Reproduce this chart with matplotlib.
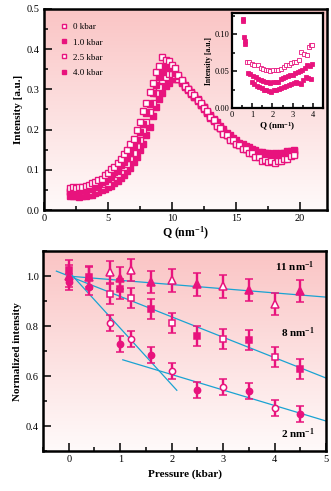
import matplotlib
matplotlib.use("Agg")
import matplotlib.pyplot as plt
import numpy as np
from matplotlib.ticker import MultipleLocator, FormatStrFormatter

PINK = "#E8137D"
CYAN = "#1AA3D2"
SERIF = "Liberation Serif"

plt.rcParams["font.family"] = SERIF
plt.rcParams["mathtext.default"] = "regular"

# ---- scattering curves at several pressures ----
q = [2.0, 2.25, 2.5, 2.75, 3.0, 3.25, 3.5, 3.75, 4.0, 4.25, 4.5, 4.75,
     5.0, 5.25, 5.5, 5.75, 6.0, 6.25, 6.5, 6.75, 7.0, 7.25, 7.5, 7.75,
     8.0, 8.25, 8.5, 8.75, 9.0, 9.25, 9.5, 9.75, 10.0, 10.25, 10.5, 10.75,
     11.0, 11.25, 11.5, 11.75, 12.0, 12.25, 12.5, 12.75, 13.0, 13.25, 13.5, 13.75,
     14.0, 14.25, 14.5, 14.75, 15.0, 15.25, 15.5, 15.75, 16.0, 16.25, 16.5, 16.75,
     17.0, 17.25, 17.5, 17.75, 18.0, 18.25, 18.5, 18.75, 19.0, 19.25, 19.5]

i_0kbar = [.054, .057, .055, .058, .056, .060, .061, .067, .069, .075, .078, .087,
           .092, .101, .107, .118, .126, .139, .149, .165, .176, .199, .218, .247,
           .266, .294, .316, .344, .358, .380, .373, .370, .360, .352, .336, .324,
           .308, .302, .290, .285, .273, .267, .253, .246, .231, .224, .210, .204,
           .190, .186, .175, .173, .163, .161, .152, .151, .143, .141, .132, .131,
           .123, .125, .119, .122, .117, .123, .121, .128, .126, .134, .136]
i_1kbar = [.047, .045, .048, .047, .050, .050, .054, .055, .060, .062, .069, .072,
           .080, .084, .094, .100, .111, .119, .132, .142, .158, .173, .194, .214,
           .241, .264, .291, .311, .331, .344, .356, .357, .353, .342, .334, .321,
           .312, .301, .294, .283, .275, .263, .255, .243, .235, .223, .215, .204,
           .197, .187, .182, .174, .170, .163, .160, .154, .152, .146, .145, .140,
           .140, .136, .137, .134, .136, .135, .138, .138, .142, .142, .147]
i_25kbar = [.044, .045, .043, .046, .044, .048, .048, .052, .052, .057, .059, .065,
            .068, .076, .081, .090, .096, .107, .115, .129, .141, .159, .175, .198,
            .219, .245, .267, .291, .307, .323, .331, .339, .339, .337, .327, .319,
            .307, .300, .289, .282, .270, .262, .250, .242, .230, .222, .210, .203,
            .192, .186, .177, .173, .165, .161, .154, .151, .145, .143, .137, .136,
            .132, .132, .129, .130, .128, .131, .130, .134, .134, .139, .139]
i_4kbar = [.036, .034, .035, .033, .035, .034, .038, .038, .043, .044, .050, .052,
           .058, .060, .067, .071, .080, .086, .097, .105, .119, .131, .149, .165,
           .187, .207, .233, .255, .277, .292, .308, .317, .326, .327, .327, .317,
           .309, .298, .291, .280, .273, .262, .255, .244, .237, .226, .219, .208,
           .201, .191, .186, .178, .174, .167, .164, .158, .156, .151, .150, .145,
           .145, .141, .142, .139, .141, .140, .143, .142, .146, .146, .150]

# low-Q detail (inset)
q_low_a = [0.52, 0.56, 0.60, 0.62, 0.64]
i_low_a = [0.121, 0.118, 0.096, 0.091, 0.087]
q_low_b = [0.72, 0.85, 0.97, 1.1, 1.3, 1.42, 1.54, 1.66, 1.78, 1.9, 2.02, 2.15,
           2.27, 2.43, 2.55, 2.67, 2.8, 2.91, 3.05, 3.16, 3.3, 3.4, 3.56, 3.7,
           3.8, 3.9, 3.97]
i_low_b = [0.063, 0.062, 0.060, 0.059, 0.058, 0.055, 0.053, 0.052, 0.052, 0.050,
           0.052, 0.051, 0.051, 0.053, 0.056, 0.058, 0.059, 0.061, 0.062, 0.063,
           0.065, 0.076, 0.074, 0.072, 0.083, 0.085, 0.086]
q_low_c = [0.78, 0.9, 1.05, 1.18, 1.3, 1.42, 1.54, 1.66, 1.78, 1.9, 2.02, 2.15,
           2.27, 2.4, 2.51, 2.63, 2.75, 2.88, 3.0, 3.12, 3.24, 3.36, 3.48, 3.6,
           3.72, 3.85, 3.97]
i_low_c = [0.048, 0.046, 0.044, 0.042, 0.040, 0.038, 0.037, 0.036, 0.036, 0.034,
           0.035, 0.036, 0.036, 0.039, 0.041, 0.042, 0.044, 0.045, 0.045, 0.047,
           0.049, 0.050, 0.052, 0.055, 0.058, 0.057, 0.060]
q_low_d = [0.97, 1.1, 1.21, 1.33, 1.46, 1.58, 1.7, 1.82, 1.94, 2.06, 2.19, 2.3,
           2.43, 2.55, 2.67, 2.8, 2.91, 3.05, 3.16, 3.28, 3.4, 3.52, 3.64, 3.76, 3.89]
i_low_d = [0.035, 0.032, 0.030, 0.029, 0.027, 0.025, 0.024, 0.023, 0.022, 0.024,
           0.025, 0.026, 0.027, 0.028, 0.030, 0.031, 0.033, 0.034, 0.035, 0.034,
           0.033, 0.038, 0.042, 0.041, 0.040]

# ---- normalized intensity vs pressure ----
p_filled = [0.0, 0.4, 1.0, 1.6, 2.5, 3.5, 4.5]
p_open = [0.8, 1.2, 2.0, 3.0, 4.0]

n11_filled = [1.00, 0.995, 0.992, 0.976, 0.967, 0.945, 0.940]
n11_open = [1.016, 1.025, 0.983, 0.959, 0.889]
n8_filled = [1.025, 0.996, 0.949, 0.869, 0.760, 0.744, 0.629]
n8_open = [0.929, 0.913, 0.813, 0.749, 0.676]
n2_filled = [0.975, 0.956, 0.727, 0.685, 0.543, 0.539, 0.449]
n2_open = [0.813, 0.749, 0.620, 0.556, 0.472]

err11 = 0.045
err8 = 0.04
err2 = 0.032

fit11_p, fit11_n = [0.0, 5.0], [1.0, 0.916]
fit8_p, fit8_n = [-0.24, 5.0], [1.02, 0.592]
fit2a_p, fit2a_n = [0.0, 2.1], [1.018, 0.543]
fit2b_p, fit2b_n = [1.05, 5.0], [0.665, 0.42]


def gradient_background(ax, top=(0.98, 0.77, 0.77), bottom=(1.0, 0.98, 0.98)):
    t = np.linspace(0, 1, 256)[:, None]
    rgb = np.empty((256, 1, 3))
    for k in range(3):
        rgb[:, 0, k] = top[k] + (bottom[k] - top[k]) * t[:, 0]
    ax.imshow(rgb, extent=(0, 1, 0, 1), transform=ax.transAxes,
              aspect="auto", zorder=0, interpolation="bilinear")


def style_axes(ax, lw=1.8, major=6, minor=3, size=7.5):
    for s in ax.spines.values():
        s.set_linewidth(lw)
    ax.tick_params(which="both", direction="in", top=False, right=False,
                   width=1.1, labelsize=size, pad=3)
    ax.tick_params(which="major", length=major)
    ax.tick_params(which="minor", length=minor)


fig = plt.figure(figsize=(3.31, 4.91), dpi=100)

# top panel
ax1 = fig.add_axes([0.133, 0.5723, 0.855, 0.4094])
gradient_background(ax1)
mk = dict(linestyle="none", color=PINK, markersize=3.8, markeredgewidth=1.0, zorder=3)
ax1.plot(q, i_4kbar, marker="s", label="4.0 kbar", **mk)
ax1.plot(q, i_25kbar, marker="s", markerfacecolor="white", label="2.5 kbar", **mk)
ax1.plot(q, i_1kbar, marker="s", label="1.0 kbar", **mk)
ax1.plot(q, i_0kbar, marker="s", markerfacecolor="white", label="0 kbar", **mk)
ax1.set_xlim(0, 22.1)
ax1.set_ylim(0, 0.5)
ax1.xaxis.set_major_locator(MultipleLocator(5))
ax1.xaxis.set_minor_locator(MultipleLocator(2.5))
ax1.yaxis.set_major_locator(MultipleLocator(0.1))
ax1.yaxis.set_minor_locator(MultipleLocator(0.05))
ax1.yaxis.set_major_formatter(FormatStrFormatter("%.1f"))
style_axes(ax1)
ax1.set_xlabel("Q (nm$^{-1}$)", fontsize=8.5, fontweight="bold", labelpad=1)
ax1.set_ylabel("Intensity [a.u.]", fontsize=8, fontweight="bold", labelpad=3)
h, l = ax1.get_legend_handles_labels()
ax1.legend(h[::-1], l[::-1], loc="upper left", bbox_to_anchor=(0.03, 0.97),
           frameon=False, fontsize=6.5, handlelength=0.8, handletextpad=0.6,
           labelspacing=0.75, markerscale=0.7)

# inset
ax2 = fig.add_axes([0.701, 0.780, 0.275, 0.1935])
ax2.set_facecolor("white")
mk2 = dict(linestyle="none", color=PINK, marker="s", markersize=2.4,
           markeredgewidth=0.6)
ax2.plot(q_low_a, i_low_a, **mk2)
ax2.plot(q_low_b, i_low_b, markerfacecolor="white", **mk2)
ax2.plot(q_low_c, i_low_c, **mk2)
ax2.plot(q_low_d, i_low_d, **mk2)
ax2.set_xlim(0, 4.5)
ax2.set_ylim(0, 0.129)
ax2.xaxis.set_major_locator(MultipleLocator(1))
ax2.xaxis.set_minor_locator(MultipleLocator(0.5))
ax2.yaxis.set_major_locator(MultipleLocator(0.05))
ax2.yaxis.set_minor_locator(MultipleLocator(0.025))
ax2.yaxis.set_major_formatter(FormatStrFormatter("%.2f"))
style_axes(ax2, lw=1.6, major=3.5, minor=2.5, size=6)
ax2.tick_params(pad=2)
ax2.set_xlabel("Q (nm$^{-1}$)", fontsize=6.5, fontweight="bold", labelpad=1)
ax2.set_ylabel("Intensity [a.u.]", fontsize=5.5, fontweight="bold", labelpad=1)

# bottom panel
ax3 = fig.add_axes([0.130, 0.0815, 0.855, 0.407])
gradient_background(ax3)
for fp, fn in [(fit11_p, fit11_n), (fit8_p, fit8_n), (fit2a_p, fit2a_n), (fit2b_p, fit2b_n)]:
    ax3.plot(fp, fn, color=CYAN, lw=0.9, zorder=2)

eb = dict(linestyle="none", color=PINK, ecolor=PINK, elinewidth=1.7,
          capsize=3, capthick=1.7, markeredgewidth=1.1, zorder=3)
ax3.errorbar(p_filled, n2_filled, yerr=err2, marker="o", markersize=4.5, **eb)
ax3.errorbar(p_open, n2_open, yerr=err2, marker="o", markersize=4.5,
             markerfacecolor="white", **eb)
ax3.errorbar(p_filled, n8_filled, yerr=err8, marker="s", markersize=4.8, **eb)
ax3.errorbar(p_open, n8_open, yerr=err8, marker="s", markersize=4.8,
             markerfacecolor="white", **eb)
ax3.errorbar(p_filled, n11_filled, yerr=err11, marker="^", markersize=6, **eb)
ax3.errorbar(p_open, n11_open, yerr=err11, marker="^", markersize=6,
             markerfacecolor="white", **eb)

ax3.set_xlim(-0.5, 5.0)
ax3.set_ylim(0.3, 1.1)
ax3.xaxis.set_major_locator(MultipleLocator(1))
ax3.xaxis.set_minor_locator(MultipleLocator(0.5))
ax3.yaxis.set_major_locator(MultipleLocator(0.2))
ax3.yaxis.set_minor_locator(MultipleLocator(0.1))
ax3.yaxis.set_major_formatter(FormatStrFormatter("%.1f"))
style_axes(ax3)
ax3.set_xlabel("Pressure (kbar)", fontsize=8, fontweight="bold", labelpad=4)
ax3.set_ylabel("Normalized intensity", fontsize=8, fontweight="bold", labelpad=3)

lab = dict(fontsize=8, fontweight="bold", ha="right", va="center")
ax3.text(4.78, 1.037, "11 nm$^{-1}$", **lab)
ax3.text(4.78, 0.772, "8 nm$^{-1}$", **lab)
ax3.text(4.78, 0.369, "2 nm$^{-1}$", **lab)

fig.savefig("out.png", dpi=100)
